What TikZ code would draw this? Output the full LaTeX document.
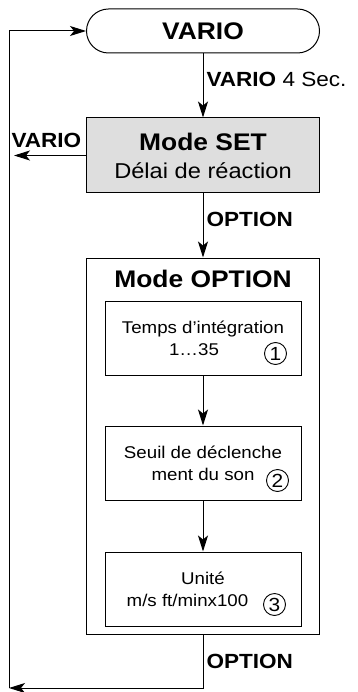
\documentclass[tikz,border=0pt]{standalone}
\usepackage{fontspec}
\setmainfont{Liberation Sans}[FakeStretch=1.1]
\usepackage{tikz}
\usetikzlibrary{positioning,arrows.meta}

\begin{document}
\begin{tikzpicture}[
  x=1pt, y=1pt,
  box/.style={draw=black, line width=1pt, minimum width=233pt, align=center, inner sep=0pt},
  sub/.style={draw=black, line width=1pt, minimum width=196pt, minimum height=74pt,
    align=center, font=\fontsize{17}{22}\selectfont},
  num/.style={circle, draw=black, line width=0.9pt, minimum size=22pt, inner sep=0pt,
    font=\fontsize{19}{19}\selectfont},
  lbl/.style={font=\fontsize{20.5}{24}\selectfont, inner sep=3pt},
  ar/.style={-{Stealth[length=16pt, width=10pt, inset=4pt]}, line width=1pt}
]
\useasboundingbox (0,0) rectangle (357,-692);
\node[box, rounded corners=22pt, minimum height=44pt,
  font=\bfseries\fontsize{24}{28}\selectfont] (vario) at (203,-31) {VARIO};
\node[box, fill=black!13, minimum height=75pt, below=64pt of vario,
  font=\fontsize{21.5}{28}\selectfont] (set)
  {{\bfseries\fontsize{24}{28}\selectfont Mode SET}\\Délai de réaction};
\node[box, minimum height=376pt, below=64pt of set] (opt) {};
\node[font=\bfseries\fontsize{24}{28}\selectfont, inner sep=0pt, below=12pt of opt.north]
  (opttitle) {Mode OPTION};
\node[sub, below=43pt of opt.north] (temps) {Temps d’intégration\\1…35\kern18pt};
\node[sub, below=50pt of temps] (seuil) {Seuil de déclenche\\ment du son};
\node[sub, below=51pt of seuil] (unite) {Unité\\m/s ft/minx100\kern31pt};
\node[num] (n1) at ([xshift=-26pt, yshift=22pt]temps.south east) {1};
\node[num] (n2) at ([xshift=-24pt, yshift=20pt]seuil.south east) {2};
\node[num] (n3) at ([xshift=-27pt, yshift=22pt]unite.south east) {3};
\coordinate (back) at (9,-688);
\coordinate (setl) at (back |- set.west);
\draw[ar] (vario) -- node[lbl, pos=0.4, right]{\textbf{VARIO} 4 Sec.} (set);
\draw[ar] (set) -- node[lbl, pos=0.4, right]{\textbf{OPTION}} (opt);
\draw[ar] (temps) -- (seuil);
\draw[ar] (seuil) -- (unite);
\draw[ar] (set.west) -- node[lbl, above=4pt, pos=0.55]{\textbf{VARIO}} ([xshift=5pt]setl);
\draw[ar] (opt.south) -- node[lbl, right]{\textbf{OPTION}} (opt.south |- back) -- (back);
\draw[ar] (back) |- (vario.west);
\end{tikzpicture}
\end{document}
